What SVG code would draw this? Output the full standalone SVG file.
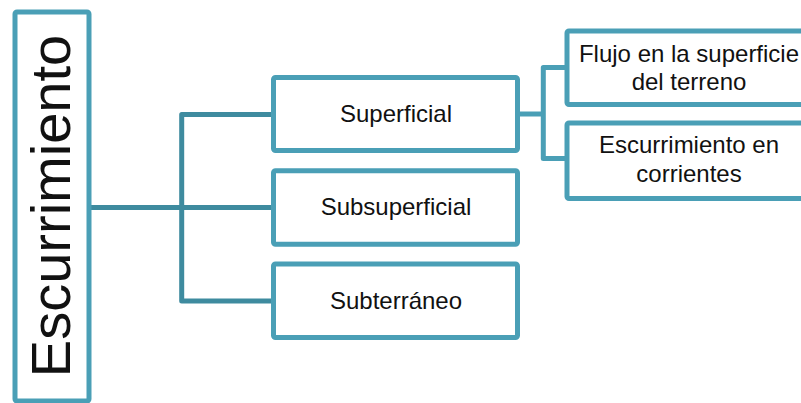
<svg xmlns="http://www.w3.org/2000/svg" width="801" height="403" viewBox="0 0 801 403">
<style>
.box{fill:#ffffff;stroke:#4a9fb6;stroke-width:5}
.conn{fill:none;stroke:#3e8b9f;stroke-width:5;stroke-linejoin:round}
.conn2{fill:none;stroke:#4a9fb6;stroke-width:5;stroke-linejoin:round}
.t{font-family:"Liberation Sans",Arial,sans-serif;font-size:24px;fill:#111111;text-anchor:middle}
.main{font-family:"Liberation Sans",Arial,sans-serif;font-size:56px;fill:#111111;text-anchor:middle}
</style>
<rect width="801" height="403" fill="#ffffff"/>
<g id="connectors">
<path class="conn" d="M89,207.5 H273"/>
<path class="conn" d="M273,114.5 H181.7 V301 H273"/>
<path class="conn2" d="M518,114 H543.3"/>
<path class="conn2" d="M567,67.5 H543.3 V158.5 H567"/>
</g>
<g id="escurrimiento">
<rect class="box" x="15" y="12" width="74" height="389" rx="2"/>
<text class="main" transform="translate(70,206) rotate(-90)">Escurrimiento</text>
</g>
<g id="superficial">
<rect class="box" x="273.5" y="77.5" width="244" height="73" rx="2"/>
<text class="t" x="396" y="122.3">Superficial</text>
</g>
<g id="subsuperficial">
<rect class="box" x="273.5" y="170.8" width="244" height="73.5" rx="2"/>
<text class="t" x="396" y="215.3">Subsuperficial</text>
</g>
<g id="subterraneo">
<rect class="box" x="273.5" y="264" width="244" height="73.5" rx="2"/>
<text class="t" x="396" y="308.5">Subterráneo</text>
</g>
<g id="flujo">
<rect class="box" x="567" y="31" width="244" height="73.5" rx="2"/>
<text class="t" x="689" y="61.7">Flujo en la superficie</text>
<text class="t" x="689" y="90">del terreno</text>
</g>
<g id="corrientes">
<rect class="box" x="567" y="123" width="244" height="75.5" rx="2"/>
<text class="t" x="689" y="153.3">Escurrimiento en</text>
<text class="t" x="689" y="181.7">corrientes</text>
</g>
</svg>
